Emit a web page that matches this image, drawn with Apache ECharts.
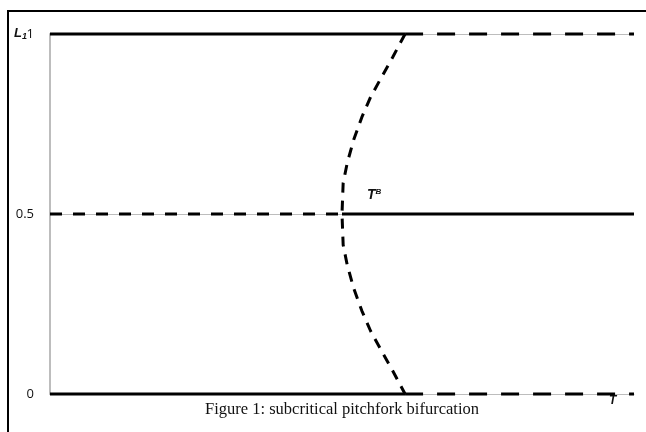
<!DOCTYPE html>
<html><head><meta charset="utf-8">
<script src="https://cdn.jsdelivr.net/npm/echarts@6/dist/echarts.min.js"></script>
<style>html,body{margin:0;padding:0;background:#fff}#c{width:646px;height:432px}</style>
</head><body><div id="c"></div>
<script>
// ---- data ----
const yTicks = [0, 0.5, 1];
const bifurcationT = 0.5;      // T^B position on the (unlabelled) T axis
const foldT = 0.608;           // where the outer branches change stability
const upperL = 1, middleL = 0.5, lowerL = 0;
const curveT = [0.608, 0.587, 0.568, 0.549, 0.534, 0.520, 0.509, 0.502, 0.5, 0.502, 0.509, 0.520, 0.534, 0.549, 0.568, 0.587, 0.608];
const curveL = [1, 0.936, 0.881, 0.825, 0.769, 0.706, 0.642, 0.586, 0.5, 0.414, 0.358, 0.294, 0.231, 0.175, 0.119, 0.064, 0];

const chart = echarts.init(document.getElementById('c'));
const solid = {color:'#000', width:3, type:'solid'};
function dashed(d){ return {color:'#000', width:3, type:d}; }
function seg(data, ls){ return {type:'line', data:data, symbol:'none', lineStyle:ls, clip:false, animation:false, z:3}; }

chart.setOption({
  animation:false,
  grid:{left:50, right:12, top:34, bottom:38},
  xAxis:{type:'value', min:0, max:1, axisLabel:{show:false}, axisTick:{show:false},
    splitLine:{show:false}, axisLine:{show:true, lineStyle:{color:'#bdbdbd', width:1}}},
  yAxis:{type:'value', min:0, max:1, interval:0.5,
    axisLine:{show:true, lineStyle:{color:'#bdbdbd', width:2}}, axisTick:{show:false},
    splitLine:{show:true, lineStyle:{color:'#bdbdbd', width:1}},
    axisLabel:{margin:16, color:'#111', fontFamily:'Open Sans', fontSize:13,
      formatter:function(v){ return yTicks.indexOf(v)>=0 ? String(v) : ''; }}},
  series:[
    seg([[0,upperL],[foldT,upperL]], solid),
    seg([[foldT,upperL],[1,upperL]], dashed([18,14])),
    seg([[0,middleL],[bifurcationT,middleL]], dashed([12,11])),
    seg([[bifurcationT,middleL],[1,middleL]], solid),
    seg([[0,lowerL],[foldT,lowerL]], solid),
    seg([[foldT,lowerL],[1,lowerL]], dashed([18,14])),
    {type:'line', data:curveT.map((t,i)=>[t,curveL[i]]), symbol:'none', smooth:false, clip:false,
      lineStyle:{color:'#000', width:3, type:[10,8]}, z:4}
  ],
  graphic:[
    {type:'rect', shape:{x:8, y:11, width:700, height:500}, style:{fill:'none', stroke:'#000', lineWidth:2}, silent:true},
    {type:'text', left:14, top:27, style:{text:'{l|L}{s|1}', rich:{
      l:{fontFamily:'Liberation Sans', fontStyle:'italic', fontWeight:'bold', fontSize:13, fill:'#111'},
      s:{fontFamily:'Liberation Sans', fontStyle:'italic', fontWeight:'bold', fontSize:9, fill:'#111', verticalAlign:'bottom', padding:[7,0,0,0]}}}},
    {type:'text', left:367, top:188, style:{text:'{t|T}{b|B}', rich:{
      t:{fontFamily:'Liberation Sans', fontStyle:'italic', fontWeight:'bold', fontSize:14, fill:'#111'},
      b:{fontFamily:'Liberation Sans', fontStyle:'italic', fontWeight:'bold', fontSize:8, fill:'#111', verticalAlign:'top', padding:[0,0,7,0]}}}},
    {type:'text', left:609, top:395, style:{text:'T', fontFamily:'Liberation Sans', fontStyle:'italic', fontWeight:'bold', fontSize:12, fill:'#111'}},
    {type:'text', left:205, top:401, style:{text:'Figure 1: subcritical pitchfork bifurcation', fontFamily:'Liberation Serif', fontSize:16.5, fill:'#111'}}
  ]
});
</script></body></html>
